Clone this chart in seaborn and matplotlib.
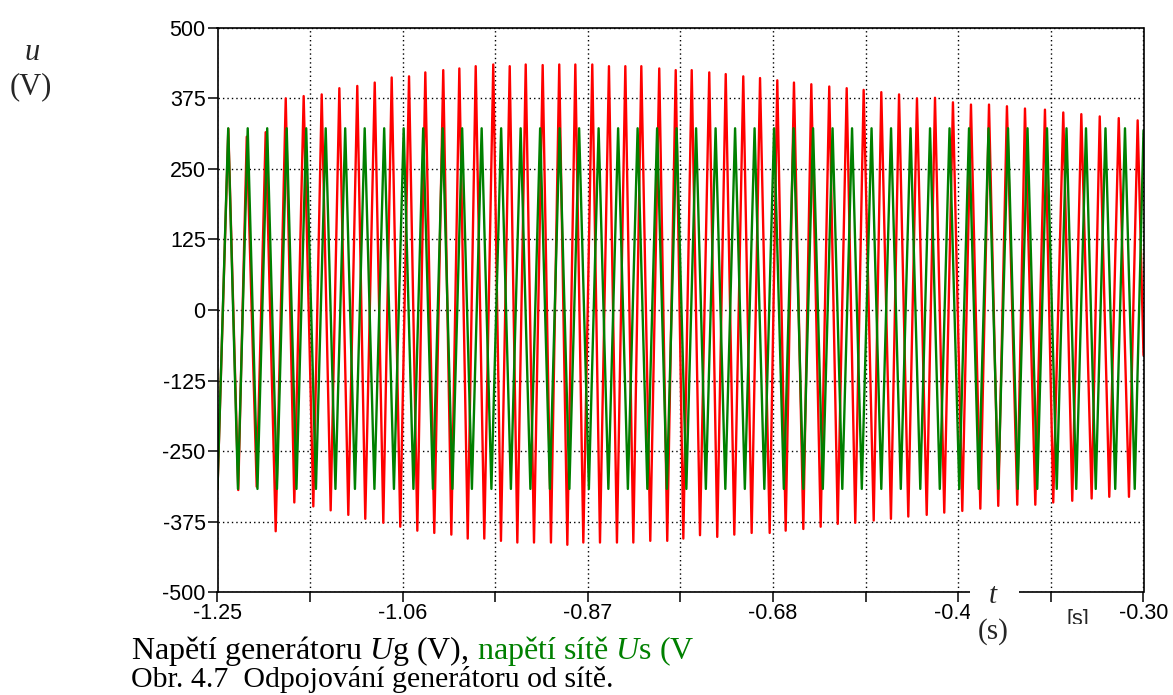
import matplotlib
matplotlib.use('Agg')
import matplotlib.pyplot as plt
import seaborn as sns
import pandas as pd
from matplotlib.patches import Rectangle

# generator voltage Ug (red) - peaks and troughs, t in s, u in V
red_peak_t = [-1.2389, -1.2200, -1.2006, -1.1800, -1.1616, -1.1431, -1.1250, -1.1066, -1.0887, -1.0713,
              -1.0535, -1.0368, -1.0184, -1.0019, -0.9851, -0.9671, -0.9502, -0.9338, -0.9164, -0.8994,
              -0.8829, -0.8655, -0.8484, -0.8316, -0.8152, -0.7968, -0.7799, -0.7635, -0.7455, -0.7286,
              -0.7106, -0.6934, -0.6757, -0.6586, -0.6408, -0.6224, -0.6045, -0.5871, -0.5690, -0.5508,
              -0.5324, -0.5139, -0.4955, -0.4770, -0.4585, -0.4401, -0.4216, -0.4011, -0.3823, -0.3638,
              -0.3449, -0.3254, -0.3060]
red_peak_v = [321, 307, 315, 375, 379, 382, 393, 397, 403, 412,
              414, 421, 425, 428, 432, 435, 432, 435, 434, 435,
              435, 435, 432, 432, 432, 428, 425, 425, 421, 418,
              414, 411, 407, 403, 400, 396, 393, 390, 386, 382,
              375, 376, 368, 364, 364, 361, 357, 355, 350, 347,
              343, 340, 336]
red_trough_t = [-1.2500, -1.2287, -1.2098, -1.1903, -1.1712, -1.1517, -1.1339, -1.1158, -1.0984, -1.0799,
                -1.0625, -1.0450, -1.0276, -1.0101, -0.9933, -0.9763, -0.9592, -0.9424, -0.9253, -0.9079,
                -0.8911, -0.8747, -0.8576, -0.8402, -0.8234, -0.8060, -0.7886, -0.7721, -0.7550, -0.7373,
                -0.7198, -0.7020, -0.6835, -0.6671, -0.6490, -0.6312, -0.6137, -0.5957, -0.5768, -0.5591,
                -0.5413, -0.5224, -0.5044, -0.4859, -0.4674, -0.4490, -0.4295, -0.4110, -0.3926, -0.3731,
                -0.3532, -0.3351, -0.3149]
red_trough_v = [-318, -319, -313, -392, -341, -348, -355, -363, -370, -377,
                -384, -391, -395, -398, -405, -405, -409, -412, -412, -412,
                -416, -412, -412, -412, -412, -409, -409, -405, -399, -402,
                -398, -395, -395, -391, -388, -384, -379, -377, -373, -370,
                -366, -363, -359, -356, -352, -347, -345, -345, -341, -338,
                -334, -331, -331]
red_end_t = [-0.300]
red_end_v = [-80]

# grid voltage Us (green)
green_peak_t = [-1.239, -1.219, -1.199, -1.179, -1.159, -1.139, -1.119, -1.099, -1.079, -1.059,
                -1.039, -1.019, -0.999, -0.979, -0.959, -0.939, -0.919, -0.899, -0.879, -0.859,
                -0.839, -0.819, -0.799, -0.779, -0.759, -0.739, -0.719, -0.699, -0.679, -0.659,
                -0.639, -0.619, -0.599, -0.579, -0.559, -0.539, -0.519, -0.499, -0.479, -0.459,
                -0.439, -0.419, -0.399, -0.379, -0.359, -0.339, -0.319]
green_peak_v = [322, 322, 322, 322, 322, 322, 322, 322, 322, 322,
                322, 322, 322, 322, 322, 322, 322, 322, 322, 322,
                322, 322, 322, 322, 322, 322, 322, 322, 322, 322,
                322, 322, 322, 322, 322, 322, 322, 322, 322, 322,
                322, 322, 322, 322, 322, 322, 322]
green_trough_t = [-1.250, -1.229, -1.209, -1.189, -1.169, -1.149, -1.129, -1.109, -1.089, -1.069,
                  -1.049, -1.029, -1.009, -0.989, -0.969, -0.949, -0.929, -0.909, -0.889, -0.869,
                  -0.849, -0.829, -0.809, -0.789, -0.769, -0.749, -0.729, -0.709, -0.689, -0.669,
                  -0.649, -0.629, -0.609, -0.589, -0.569, -0.549, -0.529, -0.509, -0.489, -0.469,
                  -0.449, -0.429, -0.409, -0.389, -0.369, -0.349, -0.329, -0.309]
green_trough_v = [-317, -317, -317, -317, -317, -317, -317, -317, -317, -317,
                  -317, -317, -317, -317, -317, -317, -317, -317, -317, -317,
                  -317, -317, -317, -317, -317, -317, -317, -317, -317, -317,
                  -317, -317, -317, -317, -317, -317, -317, -317, -317, -317,
                  -317, -317, -317, -317, -317, -317, -317, -317]
green_end_t = [-0.300]
green_end_v = [318]

x_ticks = [-1.25, -1.155, -1.06, -0.965, -0.87, -0.775, -0.68, -0.585, -0.49, -0.395, -0.30]
x_labels = ['-1.25', '', '-1.06', '', '-0.87', '', '-0.68', '', '-0.49', '', '-0.30']
y_ticks = [-500, -375, -250, -125, 0, 125, 250, 375, 500]
y_labels = ['-500', '-375', '-250', '-125', '0', '125', '250', '375', '500']

# caption, line 1 in two colours
caption_black = 'Napětí generátoru $U$g (V),'
caption_green = 'napětí sítě $U$s (V'
caption_line2 = 'Obr. 4.7  Odpojování generátoru od sítě.'

df_red = pd.DataFrame({'t': red_peak_t + red_trough_t + red_end_t,
                       'u': red_peak_v + red_trough_v + red_end_v}).sort_values('t')
df_green = pd.DataFrame({'t': green_peak_t + green_trough_t + green_end_t,
                         'u': green_peak_v + green_trough_v + green_end_v}).sort_values('t')

sns.set_theme(style='ticks')
plt.rcParams['font.family'] = ['Liberation Sans', 'DejaVu Sans']
plt.rcParams['mathtext.fontset'] = 'custom'
plt.rcParams['mathtext.rm'] = 'Liberation Serif'
plt.rcParams['mathtext.it'] = 'Liberation Serif:italic'

W, H = 1173, 695
fig = plt.figure(figsize=(W / 100, H / 100), dpi=100)
fig.patch.set_facecolor('white')


def fx(px):
    return px / W


def fy(py):
    return 1 - py / H


ax = fig.add_axes([fx(217.5), fy(592.2), (1143.5 - 217.5) / W, (592.2 - 27.8) / H])
ax.set_facecolor('white')

sns.lineplot(data=df_red, x='t', y='u', color='#ff0000', lw=1.7, estimator=None, ax=ax)
sns.lineplot(data=df_green, x='t', y='u', color='#008000', lw=1.7, estimator=None, ax=ax)

ax.set_xlim(-1.25, -0.30)
ax.set_ylim(-500, 500)
ax.set_xticks(x_ticks)
ax.set_xticklabels(x_labels)
ax.set_yticks(y_ticks)
ax.set_yticklabels(y_labels)
ax.set_xlabel('')
ax.set_ylabel('')
ax.grid(True, color='black', linestyle=(0, (1, 2.2)), lw=1.0)
ax.set_axisbelow(True)
for s in ax.spines.values():
    s.set_visible(True)
    s.set_color('black')
    s.set_linewidth(1.2)
ax.tick_params(axis='both', direction='out', length=7.5, width=1.1, colors='black',
               labelsize=15.5, bottom=True, left=True)
ax.tick_params(axis='x', pad=0.5)
ax.tick_params(axis='y', pad=1)

# axis titles
fig.text(fx(32), fy(52), 'u', family='Liberation Serif', style='italic', size=22,
         ha='center', va='center')
fig.text(fx(31), fy(87), '(V)', family='Liberation Serif', size=22, ha='center', va='center')

# box for the t label over the x axis
fig.add_artist(Rectangle((fx(970), fy(655)), (1019 - 970) / W, (655 - 584) / H,
                         transform=fig.transFigure, facecolor='white', edgecolor='none', zorder=5))
fig.text(fx(993), fy(596), 't', family='Liberation Serif', style='italic', size=21,
         ha='center', va='center', zorder=7)
fig.text(fx(993), fy(632), '(s)', family='Liberation Serif', size=21,
         ha='center', va='center', zorder=7)

fig.text(fx(1078), fy(620), '[s]', size=15.5, ha='center', va='center', zorder=4)
fig.add_artist(Rectangle((fx(1060), fy(642)), 40 / W, 18 / H,
                         transform=fig.transFigure, facecolor='white', edgecolor='none', zorder=6))

# caption
renderer = fig.canvas.get_renderer()
cap1 = fig.text(fx(131), fy(659), caption_black, family='Liberation Serif', size=23,
                color='black', ha='left', va='baseline')
bb = cap1.get_window_extent(renderer)
fig.text(fx(bb.x1 + 8), fy(659), caption_green, family='Liberation Serif', size=23,
         color='#008000', ha='left', va='baseline')
fig.text(fx(131), fy(687), caption_line2, family='Liberation Serif',
         size=21.5, color='black', ha='left', va='baseline')

fig.savefig('out.png', dpi=100, facecolor='white')
